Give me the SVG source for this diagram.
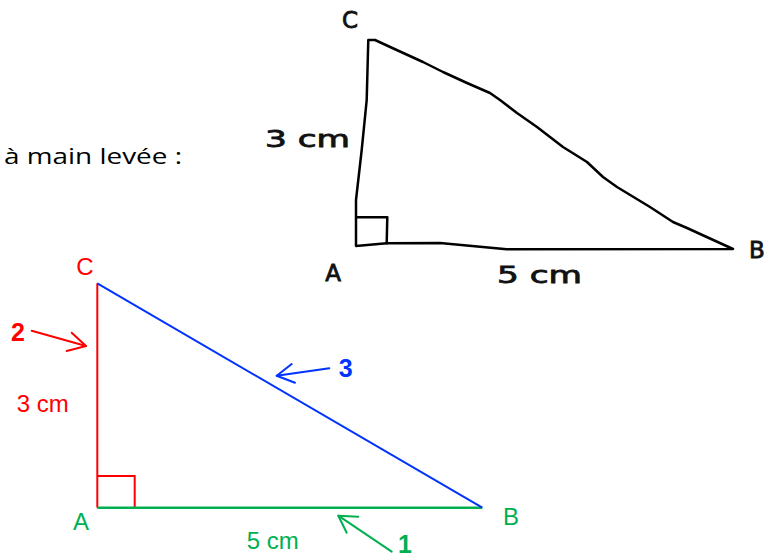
<svg xmlns="http://www.w3.org/2000/svg" width="770" height="560" viewBox="0 0 770 560">
<style>
.hand{fill:none;stroke:#000;stroke-width:2.5;stroke-linejoin:round;stroke-linecap:round}
.htxt{font-family:"DejaVu Sans",sans-serif;font-size:23px;fill:#111;stroke:#111;stroke-width:0.8}
.lbl{font-family:"Liberation Sans",Arial,sans-serif;font-size:24px}
.num{font-family:"Liberation Sans",Arial,sans-serif;font-size:25px;font-weight:bold}
.red{fill:#FF0000}.grn{fill:#00B050}.blu{fill:#0033FF}
.arr{fill:none;stroke-width:2;stroke-linecap:round;stroke-linejoin:round}
</style>
<rect width="770" height="560" fill="#fff"/>
<text x="4" y="164" font-family="Open Sans,sans-serif" font-size="21" fill="#000" textLength="178" lengthAdjust="spacingAndGlyphs">à main levée :</text>
<g id="sketch">
<path class="hand" d="M356,246 L356,200 L361.7,150 L366.7,100 L368.3,40 L375,40 L396.7,50 L423,62 L443,72 L467,83 L490,93 L500,100 L517,113 L537,127 L563,147 L587,162 L603,177 L617,187 L650,207 L673,222 L687,228 L733,249 L506.7,249.3 L440,243 L386.7,243.3 Z"/>
<path class="hand" d="M356.5,217.3 L387.3,217.3 L386.7,243.3"/>
<text class="htxt" x="350" y="28" text-anchor="middle">C</text>
<text class="htxt" x="265" y="147" textLength="85" lengthAdjust="spacingAndGlyphs">3 cm</text>
<text class="htxt" x="333" y="281" text-anchor="middle">A</text>
<text class="htxt" x="497" y="283" textLength="85" lengthAdjust="spacingAndGlyphs">5 cm</text>
<text class="htxt" x="757" y="258" text-anchor="middle">B</text>
</g>
<g id="connectors">
<line id="side-AC" x1="97.3" y1="283.3" x2="97.3" y2="507.7" stroke="#FF0000" stroke-width="2"/>
<path id="right-angle" d="M97.3,476 H134.7 V507.7" fill="none" stroke="#FF0000" stroke-width="2"/>
<line id="side-AB" x1="97.3" y1="507.7" x2="482.3" y2="507.7" stroke="#00B050" stroke-width="2.5"/>
<line id="side-CB" x1="97.3" y1="283.3" x2="482.3" y2="507.7" stroke="#0033FF" stroke-width="2"/>
<g id="arrow-2" class="arr" stroke="#FF0000"><path d="M31.7,330.7 L86,346"/><path d="M71.7,332.7 L86,346 L66.7,351"/></g>
<g id="arrow-3" class="arr" stroke="#0033FF"><path d="M329.3,368.3 L276.7,375.7"/><path d="M291.7,364 L276.7,375.7 L295,382.7"/></g>
<g id="arrow-1" class="arr" stroke="#00B050"><path d="M391.7,551.7 L338.3,515.7"/><path d="M358.3,516.7 L338.3,515.7 L346.7,532.7"/></g>
</g>
<g id="node-C"><text class="lbl red" x="85" y="275" text-anchor="middle">C</text></g>
<g id="node-A"><text class="lbl grn" x="81" y="530" text-anchor="middle">A</text></g>
<g id="node-B"><text class="lbl grn" x="511" y="525" text-anchor="middle">B</text></g>
<g id="label-3cm"><text class="lbl red" x="16.7" y="411.5">3 cm</text></g>
<g id="label-5cm"><text class="lbl grn" x="246.7" y="548.5">5 cm</text></g>
<g id="num-2"><text class="num red" x="18" y="340.5" text-anchor="middle">2</text></g>
<g id="num-3"><text class="num blu" x="345.7" y="377" text-anchor="middle">3</text></g>
<g id="num-1"><text class="num grn" x="405" y="553" text-anchor="middle">1</text></g>
</svg>
